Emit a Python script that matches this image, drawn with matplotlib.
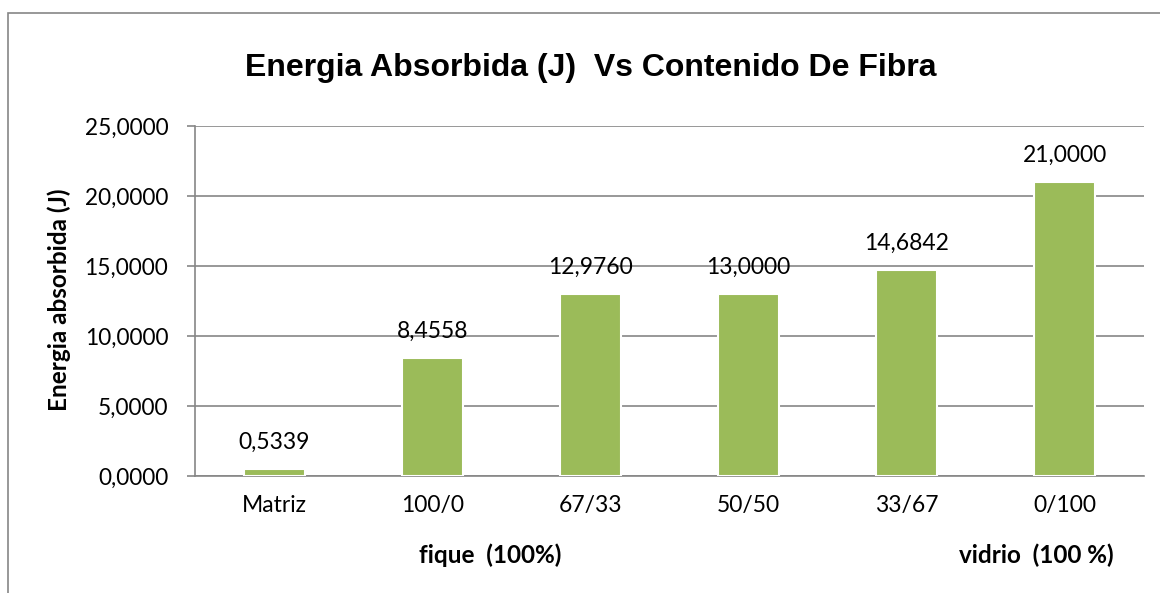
import matplotlib.pyplot as plt
from matplotlib.patches import Rectangle

categorias = ['Matriz', '100/0', '67/33', '50/50', '33/67', '0/100']
energia = [0.5339, 8.4558, 12.9760, 13.0000, 14.6842, 21.0000]
yticks = [0, 5, 10, 15, 20, 25]

verde = '#9BBB59'
gris = '#868686'
fuente = 'Lato'

fig = plt.figure(figsize=(11.6, 5.93), dpi=100)
# borde exterior del grafico
fig.patches.append(Rectangle((8 / 1160, -0.01), 1.02, 1 - 13 / 593 + 0.01,
                             transform=fig.transFigure, fill=False,
                             edgecolor=gris, linewidth=1.2))

ax = fig.add_axes([195 / 1160, 1 - 476 / 593, 949 / 1160, 350 / 593])
x = range(len(categorias))
bars = ax.bar(x, energia, width=0.386, color=verde, edgecolor='white',
              linewidth=1.5, zorder=3)

for xi, v in zip(x, energia):
    ax.text(xi, v + 1.15, f'{v:.4f}'.replace('.', ','), ha='center', va='bottom',
            fontsize=16.5, family=fuente)

ax.set_xlim(-0.5, len(categorias) - 0.5)
ax.set_ylim(0, 25)
ax.set_yticks(yticks)
ax.set_yticklabels([f'{t:.4f}'.replace('.', ',') for t in yticks],
                   fontsize=16.3, family=fuente)
ax.set_xticks(list(x))
ax.set_xticklabels(categorias, fontsize=16.5, family=fuente)
ax.tick_params(axis='x', length=0, pad=14)
ax.tick_params(axis='y', length=5.8, width=1.2, color=gris, pad=13.5)
ax.grid(axis='y', color=gris, linewidth=1.2, zorder=0)
for s in ['top', 'right']:
    ax.spines[s].set_visible(False)
ax.spines['left'].set_color(gris)
ax.spines['left'].set_linewidth(1.2)
ax.spines['bottom'].set_color(gris)
ax.spines['bottom'].set_linewidth(1.2)

fig.text(591 / 1160, 1 - 68 / 593, 'Energia Absorbida (J)  Vs Contenido De Fibra',
         ha='center', va='center', fontsize=23, fontweight='bold',
         family='Liberation Sans')
fig.text(59 / 1160, 1 - 300 / 593, 'Energia absorbida (J)', rotation=90,
         ha='center', va='center', fontsize=17.5, fontweight='bold', family=fuente)
fig.text(490 / 1160, 1 - 555 / 593, 'fique  (100%)', ha='center', va='center',
         fontsize=17.5, fontweight='bold', family=fuente)
fig.text(1036 / 1160, 1 - 555 / 593, 'vidrio  (100 %)', ha='center', va='center',
         fontsize=17.5, fontweight='bold', family=fuente)

fig.savefig('out.png', dpi=100)
